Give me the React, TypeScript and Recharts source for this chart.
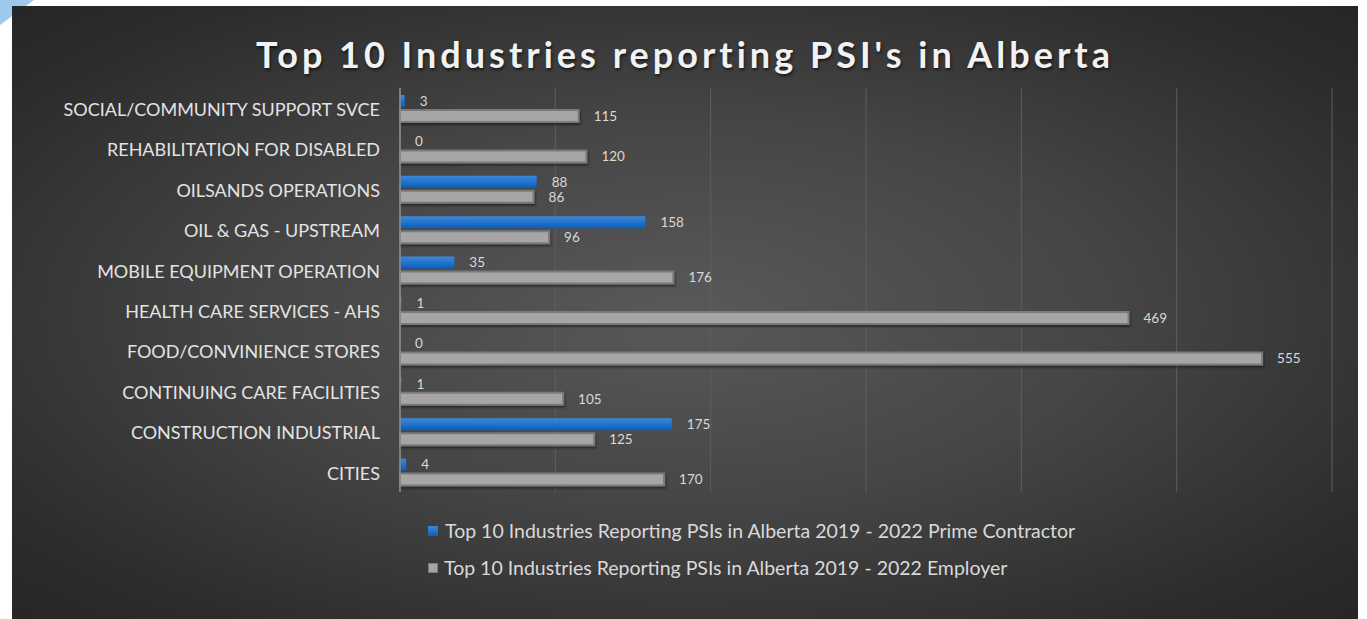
import React from 'react';
import { BarChart, Bar, XAxis, YAxis, CartesianGrid, LabelList, Legend } from 'recharts';

const categories = [
  'SOCIAL/COMMUNITY SUPPORT SVCE',
  'REHABILITATION FOR DISABLED',
  'OILSANDS OPERATIONS',
  'OIL & GAS - UPSTREAM',
  'MOBILE EQUIPMENT OPERATION',
  'HEALTH CARE SERVICES - AHS',
  'FOOD/CONVINIENCE STORES',
  'CONTINUING CARE FACILITIES',
  'CONSTRUCTION INDUSTRIAL',
  'CITIES',
];
const primeContractor = [3, 0, 88, 158, 35, 1, 0, 1, 175, 4];
const employer = [115, 120, 86, 96, 176, 469, 555, 105, 125, 170];
const xTicks = [0, 100, 200, 300, 400, 500, 600];
const seriesNames = [
  'Top 10 Industries Reporting PSIs in Alberta 2019 - 2022 Prime Contractor',
  'Top 10 Industries Reporting PSIs in Alberta 2019 - 2022 Employer',
];
const title = "Top 10 Industries reporting PSI's in Alberta";

const data = categories.map((c, i) => ({ name: c, prime: primeContractor[i], employer: employer[i] }));

const FONT = 'Lato, "Open Sans", sans-serif';

const LegendContent = () => (
  <div style={{ fontFamily: FONT, fontSize: 19.5, color: '#d9d9d9' }}>
    <div style={{ display: 'flex', alignItems: 'center', height: 37 }}>
      <span style={{ display: 'inline-block', width: 10, height: 10, background: 'linear-gradient(#3a88dc,#0a5fbb)', marginRight: 7 }} />
      {seriesNames[0]}
    </div>
    <div style={{ display: 'flex', alignItems: 'center', height: 37 }}>
      <span style={{ display: 'inline-block', width: 8, height: 8, background: '#a6a6a6', border: '1.5px solid #7a7a7a', marginRight: 6 }} />
      {seriesNames[1]}
    </div>
  </div>
);

export default function App() {
  return (
    <div style={{ position: 'absolute', left: 0, top: 0, width: 1367, height: 619, background: '#ffffff', overflow: 'hidden' }}>
      <svg width={60} height={40} style={{ position: 'absolute', left: 0, top: 0 }}>
        <polygon points="0,0 34,0 0,25" fill="#9fc8ee" />
      </svg>
      <div
        style={{
          position: 'absolute',
          left: 12,
          top: 6,
          width: 1346,
          height: 613,
          background: 'radial-gradient(ellipse at 50% 50%, #595959 0%, #454545 45%, #2c2c2c 85%, #262626 100%)',
        }}
      >
        <div
          style={{
            position: 'absolute',
            left: 0,
            top: 25,
            width: 1346,
            textAlign: 'center',
            fontFamily: FONT,
            fontWeight: 700,
            fontSize: 36,
            letterSpacing: 4,
            color: '#f2f2f2',
            textShadow: '1px 2px 3px rgba(0,0,0,0.6)',
            lineHeight: '46px',
          }}
        >
          {title}
        </div>
        <BarChart
          width={1346}
          height={613}
          data={data}
          layout="vertical"
          margin={{ top: 82, right: 26, bottom: 127, left: 0 }}
          barGap={3}
        >
          <defs>
            <linearGradient id="blueGrad" x1="0" y1="0" x2="0" y2="1">
              <stop offset="0%" stopColor="#3a88dc" />
              <stop offset="100%" stopColor="#0a5fbb" />
            </linearGradient>
            <filter id="shadow" x="-5%" y="-50%" width="110%" height="200%">
              <feDropShadow dx="1" dy="2" stdDeviation="1.2" floodColor="#000" floodOpacity="0.45" />
            </filter>
          </defs>
          <CartesianGrid horizontal={false} stroke="#5e5e5e" strokeWidth={1} />
          <XAxis type="number" domain={[0, 600]} ticks={xTicks} hide />
          <YAxis
            type="category"
            dataKey="name"
            width={388}
            tickLine={false}
            tickSize={6}
            tickMargin={14}
            axisLine={{ stroke: '#8f8f8f', strokeWidth: 1.5 }}
            tick={{ fill: '#e3e3e3', fontSize: 18, fontFamily: FONT, dy: 1.5 }}
            interval={0}
          />
          <Bar dataKey="prime" barSize={12} minPointSize={0.01} fill="url(#blueGrad)" isAnimationActive={false}>
            <LabelList dataKey="prime" position="right" offset={15} fill="#d9d9d9" fontSize={13.5} fontFamily={FONT} />
          </Bar>
          <Bar
            dataKey="employer"
            barSize={12}
            fill="#a6a6a6"
            stroke="#7a7a7a"
            strokeWidth={2}
            filter="url(#shadow)"
            isAnimationActive={false}
          >
            <LabelList dataKey="employer" position="right" offset={15} fill="#d9d9d9" fontSize={13.5} fontFamily={FONT} />
          </Bar>
          <Legend
            layout="vertical"
            align="center"
            verticalAlign="middle"
            content={<LegendContent />}
            wrapperStyle={{ top: 506, left: 416, width: 760 }}
          />
        </BarChart>
      </div>
    </div>
  );
}
